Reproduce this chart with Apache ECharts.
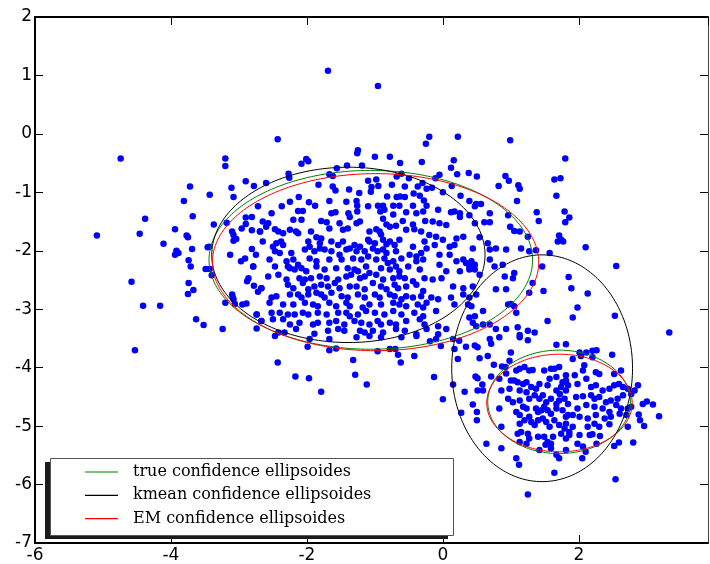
<!DOCTYPE html>
<html>
<head>
<meta charset="utf-8">
<script src="https://cdn.jsdelivr.net/npm/echarts@6/dist/echarts.min.js"></script>
<style>html,body{margin:0;padding:0;background:#fff}#c{width:710px;height:564px}</style>
</head>
<body>
<div id="c"></div>
<script>
// ---- tick labels / axis ranges ----
const xTicks = [-6, -4, -2, 0, 2];
const yTicks = [-7, -6, -5, -4, -3, -2, -1, 0, 1, 2];
const legendNames = ['true confidence ellipsoides', 'kmean confidence ellipsoides', 'EM confidence ellipsoides'];

// ---- ellipse parameters: [centerX, centerY, semiAxisX, semiAxisY, angleDeg] ----
const ellipsesTrue = [[-1.06, -2.155, 2.38, 1.53, 0], [1.71, -4.585, 1.05, 0.885, 0]];
const ellipsesKmean = [[-1.39, -2.07, 2.01, 1.50, 0], [1.46, -4.01, 1.33, 1.94, 0]];
const ellipsesEM = [[-0.99, -2.195, 2.40, 1.515, 0], [1.715, -4.605, 1.07, 0.835, 0]];

// ---- scatter points, read region by region ----
const pointsFarLeft = [
[-4.74,-0.42],[-3.20,-0.42],[-3.20,-0.55],[-3.72,-0.90],[-3.43,-1.04],[-3.81,-1.15],[-3.11,-0.92],[-2.90,-0.81],[-2.78,-0.89],[-3.08,-1.08],[-2.72,-1.24],
[-4.38,-1.45],[-4.46,-1.71],[-5.09,-1.74],[-4.11,-1.88],[-3.94,-1.63],[-3.68,-1.41],[-3.37,-1.55],[-3.18,-1.52],[-3.77,-1.74],[-3.75,-1.77],[-3.69,-1.97],[-3.92,-2.00],[-3.89,-2.04],[-3.94,-2.07],[-3.46,-1.94],[-3.44,-1.93],[-3.74,-2.16],[-3.71,-2.27],[-3.49,-2.31],[-3.43,-2.31],[-3.40,-2.42],[-4.58,-2.53],[-3.74,-2.55],[-3.67,-2.67],[-3.75,-2.74],[-4.41,-2.94],[-4.16,-2.94],[-3.63,-3.17],[-3.52,-3.27],[-3.24,-3.34],[-3.20,-2.89],[-3.10,-2.75],[-3.08,-2.83],[-3.06,-2.91],[-3.09,-2.80],[-2.95,-2.92],[-2.89,-2.90],[-2.74,-3.33],
[-2.90,-1.43],[-2.81,-1.42],[-2.90,-1.54],[-2.96,-1.62],[-2.81,-1.65],[-3.10,-1.67],[-3.08,-1.73],[-3.04,-1.80],[-3.08,-1.83],[-2.81,-1.97],[-2.75,-2.07],[-2.91,-2.13],[-2.97,-2.18],[-3.13,-2.07],[-2.86,-2.47],[-2.88,-2.52],[-2.78,-2.60],[-2.72,-2.70],
[-4.53,-3.70]
];
const pointsTop = [
[-1.69,1.08],[-0.955,0.82],[-2.43,-0.09],[-1.25,-0.28],[-1.26,-0.33],[-1.00,-0.39],[-0.78,-0.39],[-0.63,-0.50],[-0.31,-0.48],[-0.25,-0.17],[-0.20,-0.05],[-2.01,-0.43],[-1.98,-0.47],[-2.08,-0.51],[-1.56,-0.59],[-1.41,-0.54],[-1.19,-0.54],[-2.27,-0.68],[-2.26,-0.75],[-1.67,-0.69],[-1.62,-0.72],[-2.60,-0.84],[-1.83,-0.87],[-1.62,-0.90],[-1.58,-0.97],[-1.38,-0.95],[-1.23,-1.01],[-1.10,-0.80],[-0.98,-0.78],[-1.05,-0.91],[-0.95,-0.89],[-1.06,-0.99],[-0.75,-0.87],[-0.68,-0.73],[-0.61,-0.68],[-0.50,-0.76],[-0.56,-0.90],[-0.37,-0.90],[-0.30,-0.84],[-0.43,-1.02],[-0.34,-1.06],[-0.82,-1.07],[-0.68,-1.08],[-0.63,-1.07],[-0.56,-1.08],[-0.24,-0.94],[-2.12,-1.08],[-2.25,-1.16],[-1.97,-1.17],[-1.67,-1.15],[-1.42,-1.16],[-1.27,-1.15],[-2.37,-1.24],[-1.88,-1.23],[-1.26,-1.23],[-0.955,-1.23],[-0.88,-1.23],[-0.73,-1.23],[-0.64,-1.23],[-0.44,-1.23],
[0.22,-0.05],[0.99,-0.11],[1.80,-0.42],[0.16,-0.45],[0.12,-0.58],[0.21,-0.69],[0.38,-0.67],[0.50,-0.73],[-0.05,-0.70],[-0.11,-0.76],[-0.16,-0.92],[0.00,-1.00],[0.13,-0.89],[0.26,-1.06],[-0.28,-1.14],[0.39,-1.15],[0.49,-1.20],[0.56,-1.20],[0.47,-1.24],[0.82,-0.89],[0.92,-0.72],[0.97,-0.80],[1.11,-0.88],[1.13,-0.94],[1.09,-1.15],[1.64,-0.78],[1.73,-0.76],[1.67,-1.06]
];
const pointsCore = [
[-1.10,-1.24],[-0.24,-1.23],
[-2.52,-1.36],[-2.13,-1.32],[-2.06,-1.32],[-1.64,-1.36],[-1.58,-1.34],[-1.39,-1.36],[-1.26,-1.33],[-0.92,-1.33],[-0.86,-1.30],[-0.73,-1.38],[-0.54,-1.34],[-0.39,-1.36],[-0.29,-1.33],
[-2.65,-1.50],[-2.57,-1.53],[-2.60,-1.59],[-2.20,-1.47],[-2.08,-1.47],[-1.79,-1.49],[-1.71,-1.51],[-1.52,-1.53],[-1.37,-1.42],[-1.27,-1.53],[-1.22,-1.50],[-0.88,-1.45],[-0.83,-1.55],[-0.59,-1.49],[-0.44,-1.55],[-0.26,-1.49],
[-2.69,-1.67],[-2.47,-1.63],[-2.42,-1.67],[-2.35,-1.70],[-2.25,-1.64],[-2.16,-1.67],[-2.13,-1.70],[-1.94,-1.67],[-1.67,-1.62],[-1.47,-1.64],[-1.40,-1.62],[-1.08,-1.67],[-0.98,-1.63],[-0.93,-1.67],[-0.91,-1.72],[-0.78,-1.59],[-0.69,-1.57],[-0.54,-1.64],[-0.42,-1.63],[-0.32,-1.67],
[-2.65,-1.84],[-2.50,-1.93],[-2.45,-1.87],[-2.38,-1.84],[-2.35,-1.90],[-1.98,-1.84],[-1.86,-1.77],[-1.79,-1.79],[-1.96,-1.93],[-1.81,-1.87],[-1.64,-1.84],[-1.54,-1.90],[-1.47,-1.84],[-1.30,-1.90],[-1.22,-1.93],[-1.10,-1.81],[-1.08,-1.84],[-1.00,-1.87],[-0.88,-1.81],[-0.83,-1.89],[-0.78,-1.84],[-0.71,-1.90],[-0.64,-1.81],[-0.44,-1.93],[-0.27,-1.84],
[-2.47,-2.01],[-2.40,-2.04],[-2.23,-2.04],[-2.03,-1.98],[-1.89,-2.01],[-1.81,-1.96],[-1.74,-1.98],[-1.64,-2.01],[-1.52,-2.07],[-1.42,-1.98],[-1.37,-1.96],[-1.27,-2.01],[-1.15,-2.01],[-1.03,-1.96],[-0.96,-2.01],[-0.88,-1.98],[-0.83,-2.04],[-0.69,-2.01],[-0.49,-2.07],[-0.39,-2.10],[-0.24,-1.96],
[-2.55,-2.15],[-2.30,-2.18],[-2.20,-2.15],[-2.13,-2.24],[-1.96,-2.13],[-1.86,-2.18],[-1.67,-2.15],[-1.49,-2.15],[-1.32,-2.13],[-1.20,-2.15],[-1.10,-2.10],[-0.98,-2.15],[-0.86,-2.13],[-0.81,-2.21],[-0.73,-2.18],[-0.61,-2.13],[-0.39,-2.18],[-0.29,-2.15],
[-2.79,-2.27],[-2.47,-2.27],[-2.28,-2.27],[-2.25,-2.30],[-2.18,-2.32],[-2.08,-2.30],[-2.01,-2.35],[-1.86,-2.27],[-1.74,-2.32],[-1.57,-2.30],[-1.40,-2.30],[-1.30,-2.32],[-1.25,-2.35],[-1.13,-2.27],[-1.08,-2.38],[-0.91,-2.30],[-0.78,-2.32],[-0.69,-2.27],[-0.64,-2.35],[-0.51,-2.27],[-0.34,-2.32],
[-2.57,-2.44],[-2.42,-2.41],[-2.30,-2.49],[-2.11,-2.47],[-2.03,-2.49],[-1.94,-2.47],[-1.81,-2.44],[-1.71,-2.47],[-1.54,-2.49],[-1.42,-2.44],[-1.35,-2.41],[-1.22,-2.47],[-1.15,-2.44],[-0.98,-2.41],[-0.88,-2.49],[-0.73,-2.47],[-0.64,-2.44],[-0.56,-2.47],[-0.44,-2.52],[-0.27,-2.47],
[-2.67,-2.64],[-2.28,-2.58],[-2.20,-2.64],[-2.06,-2.55],[-1.98,-2.66],[-1.89,-2.61],[-1.79,-2.58],[-1.69,-2.61],[-1.59,-2.55],[-1.52,-2.64],[-1.37,-2.61],[-1.27,-2.61],[-1.15,-2.66],[-1.03,-2.55],[-0.91,-2.61],[-0.83,-2.66],[-0.71,-2.58],[-0.66,-2.64],[-0.54,-2.61],[-0.39,-2.58],[-0.29,-2.69],
[-2.52,-2.80],[-2.45,-2.78],[-2.25,-2.75],[-2.13,-2.75],[-2.08,-2.80],[-1.98,-2.75],[-1.86,-2.72],[-1.79,-2.75],[-1.74,-2.80],[-1.64,-2.72],[-1.49,-2.78],[-1.40,-2.80],[-1.25,-2.75],[-1.15,-2.80],[-1.00,-2.75],[-0.93,-2.80],[-0.78,-2.75],[-0.71,-2.78],[-0.61,-2.83],[-0.54,-2.78],[-0.44,-2.80],[-0.32,-2.78],
[-2.55,-2.89],[-2.35,-2.92],[-2.20,-2.92],[-2.03,-2.89],[-1.91,-2.92],[-1.84,-2.95],[-1.67,-2.89],[-1.57,-2.95],[-1.42,-2.89],[-1.37,-2.95],[-1.18,-2.97],[-1.08,-2.92],[-0.91,-2.92],[-0.73,-2.89],[-0.64,-2.92],[-0.54,-2.95],[-0.37,-2.92],[-0.24,-2.89],
[-2.74,-3.09],[-2.52,-3.06],[-2.40,-3.06],[-2.28,-3.09],[-2.18,-3.09],[-2.06,-3.06],[-1.98,-3.09],[-1.84,-3.06],[-1.71,-3.09],[-1.54,-3.06],[-1.42,-3.06],[-1.37,-3.12],[-1.25,-3.09],[-1.13,-3.03],[-1.00,-3.06],[-0.86,-3.09],[-0.73,-3.03],[-0.61,-3.09],[-0.42,-3.06],[-0.29,-3.12],
[-2.67,-3.20],[-2.50,-3.17],[-2.35,-3.17],[-2.25,-3.26],[-2.11,-3.23],[-1.91,-3.26],[-1.84,-3.23],[-1.67,-3.23],[-1.57,-3.20],[-1.45,-3.26],[-1.30,-3.20],[-1.20,-3.23],[-1.08,-3.26],[-0.96,-3.20],[-0.91,-3.26],[-0.78,-3.23],[-0.69,-3.26],[-0.54,-3.20],[-0.34,-3.17],[-0.27,-3.26],
[-2.42,-3.40],[-2.33,-3.40],[-2.16,-3.34],[-1.89,-3.42],[-1.69,-3.37],[-1.54,-3.34],[-1.45,-3.37],[-1.22,-3.37],[-1.15,-3.40],[-1.03,-3.37],[-0.88,-3.40],[-0.69,-3.34],[-0.56,-3.37],[-0.39,-3.43],[-0.24,-3.34],
[-2.47,-3.46],[-1.96,-3.51],[-1.67,-3.51],[-1.27,-3.48],[-1.08,-3.46],[-0.91,-3.48],[-0.61,-3.48],[-0.39,-3.46],
[-2.69,-1.67],[-2.79,-2.27],[-2.67,-2.64],[-2.74,-3.09],[-2.67,-3.20]
];
const pointsMiddle = [
[-0.07,-1.30],[0.12,-1.34],[0.17,-1.33],[0.25,-1.36],[-0.15,-1.50],[-0.05,-1.53],[0.05,-1.56],[0.25,-1.42],[-0.20,-1.73],[-0.10,-1.76],[0.00,-1.81],[0.20,-1.79],[0.30,-1.76],[-0.12,-1.90],[0.10,-1.93],[0.17,-1.90],[0.44,-1.96],[-0.32,-2.04],[-0.05,-2.07],[0.10,-2.07],[0.20,-2.18],[0.30,-2.15],[0.34,-2.21],[0.42,-2.18],[0.39,-2.27],[0.47,-2.24],[-0.05,-2.24],[0.05,-2.35],[0.25,-2.35],[0.39,-2.32],[0.47,-2.32],[0.54,-2.41],[-0.15,-2.49],[-0.02,-2.47],[0.15,-2.61],[0.30,-2.64],[0.44,-2.61],[-0.17,-2.80],[-0.07,-2.83],[0.12,-2.80],[0.30,-2.75],[0.39,-2.80],[0.37,-2.92],[0.42,-2.95],[0.49,-2.75],[-0.29,-2.97],[-0.10,-3.03],[0.17,-2.92],[0.39,-3.14],[0.44,-3.23],[0.49,-3.29],[-0.07,-3.29],[0.05,-3.34],[-0.07,-3.43],
[0.47,-1.53],[0.69,-1.36],[0.61,-1.51],[0.69,-1.51],[0.96,-1.39],[0.99,-1.59],[1.05,-1.66],[0.39,-1.39],[0.54,-1.77],[0.66,-1.87],[0.69,-1.98],[0.78,-1.96],[0.93,-1.98],[1.15,-1.96],[1.25,-1.76],[1.13,-1.67],[1.27,-2.01],[0.88,-2.24],[0.69,-2.15],[0.76,-2.27],[0.91,-2.44],[1.03,-2.47],[1.05,-2.38],[0.78,-2.66],[0.93,-2.66],[1.27,-2.72],[1.32,-2.55],[0.96,-2.92],[1.00,-2.91],[1.05,-2.95],[1.08,-3.06],[0.59,-3.03],[0.47,-3.12],[0.59,-3.26],[0.69,-3.26],[0.78,-3.34],
[1.38,-1.34],[1.41,-1.49],[1.79,-1.33],[1.86,-1.43],[1.80,-1.51],[1.71,-1.74],[1.74,-1.81],[1.77,-1.84],[1.69,-1.84],[2.10,-1.94],[1.37,-1.99],[1.57,-2.04],[1.46,-2.27],[1.85,-2.45],[1.89,-2.64],[2.13,-2.73],[1.48,-2.69],[1.98,-2.97],[1.91,-3.14],[1.54,-3.20],[1.10,-3.31],[0.93,-3.34],[1.25,-3.37],[1.35,-3.40],[1.13,-3.44],[0.47,-3.62],
[2.55,-2.26],[2.53,-3.11],[3.33,-3.40]
];
const pointsLower = [
[-1.99,-3.64],[-1.67,-3.70],[-1.57,-3.67],[-0.96,-3.72],[-0.78,-3.68],[-0.70,-3.68],[-0.66,-3.78],[-0.42,-3.80],[-0.62,-3.91],[-2.43,-3.91],[-1.32,-3.87],[-2.17,-4.15],[-1.97,-4.18],[-1.29,-4.12],[-1.12,-4.29],[-1.79,-4.41]
];
const pointsSmallWest = [
[-0.19,-3.55],[-0.10,-3.51],[0.15,-3.51],[0.24,-3.54],[0.69,-3.51],[0.71,-3.59],[0.83,-3.48],[1.13,-3.48],[1.25,-3.53],[1.67,-3.61],[1.81,-3.60],[-0.03,-3.63],[0.17,-3.68],[0.34,-3.64],[0.51,-3.65],[0.54,-3.84],[0.66,-3.80],[0.22,-3.85],[-0.13,-4.16],[0.00,-4.54],[0.15,-4.29],[0.27,-4.77],[0.32,-4.41],[0.44,-4.63],[0.48,-4.15],[0.51,-4.18],[0.50,-4.76],[0.51,-4.39],[0.59,-4.39],[0.58,-4.29],[0.50,-4.90],[0.71,-4.15],[0.75,-3.95],[0.87,-3.98],[0.92,-3.99],[0.98,-3.88],[1.00,-3.74],[0.64,-5.30],[0.86,-5.38],[1.08,-5.55],[1.12,-5.66],[1.25,-6.17],[1.64,-5.80],[0.86,-5.01],[0.83,-4.70],[0.86,-4.39],[0.83,-4.19],
[0.93,-4.10],[1.00,-4.22],[1.08,-4.05],[1.13,-4.02],[1.20,-3.99],[1.27,-4.05],[1.32,-4.04],[1.05,-4.22],[1.10,-4.25],[1.18,-4.28],[1.23,-4.25],[0.98,-4.36],[1.13,-4.39],[1.23,-4.42],[1.30,-4.33],[1.37,-4.36],[1.49,-4.05],[1.59,-4.02],[1.64,-4.02],[1.71,-3.99],[1.57,-4.19],[1.67,-4.16],[1.76,-4.25],[1.81,-4.22],[1.42,-4.28],[1.54,-4.30],[1.67,-4.39],[1.74,-4.33],[1.81,-4.39],[1.84,-4.30],
[0.96,-4.53],[1.03,-4.59],[1.13,-4.56],[1.18,-4.67],[1.27,-4.53],[1.35,-4.47],[1.42,-4.53],[1.47,-4.47],[1.52,-4.59],[1.59,-4.53],[1.67,-4.62],[1.71,-4.56],[1.79,-4.53],[1.84,-4.62],[1.08,-4.76],[1.13,-4.81],[1.23,-4.70],[1.27,-4.84],[1.37,-4.70],[1.40,-4.76],[1.45,-4.73],[1.49,-4.67],[1.54,-4.73],[1.59,-4.79],[1.67,-4.70],[1.76,-4.73],[1.84,-4.81],
[1.13,-4.96],[1.20,-4.90],[1.30,-4.93],[1.35,-4.98],[1.40,-4.90],[1.47,-4.87],[1.52,-4.93],[1.57,-5.01],[1.64,-4.90],[1.71,-4.98],[1.81,-4.96],[1.10,-5.13],[1.15,-5.10],[1.25,-5.13],[1.27,-5.21],[1.40,-5.18],[1.49,-5.18],[1.54,-5.27],[1.51,-5.32],[1.59,-5.30],[1.62,-5.18],[1.74,-5.13],[1.79,-5.04],[1.86,-5.10],[1.13,-5.27],[1.23,-5.30],[1.42,-5.41],[1.59,-5.38],[1.67,-5.49],[1.71,-5.55],[1.81,-5.41]
];
const pointsSmallEast = [
[2.01,-3.74],[2.11,-3.74],[2.20,-3.71],[2.26,-3.70],[2.49,-3.78],[2.03,-3.80],[2.20,-3.82],[1.91,-3.85],[2.08,-3.96],[2.06,-4.05],[2.25,-4.08],[2.30,-4.11],[2.62,-4.05],[2.52,-4.11],[1.81,-4.13],[1.94,-4.13],[2.11,-4.19],[1.98,-4.28],[2.18,-4.33],[2.25,-4.30],[2.35,-4.39],[2.45,-4.36],[2.52,-4.30],[2.59,-4.28],[2.65,-4.33],[2.72,-4.36],[2.82,-4.39],[2.87,-4.30],[1.72,-4.45],[1.96,-4.50],[2.06,-4.49],[2.18,-4.47],[2.23,-4.53],[2.30,-4.50],[2.40,-4.59],[2.47,-4.56],[2.57,-4.53],[2.65,-4.47],[2.77,-4.45],[2.94,-4.62],[3.00,-4.58],[3.09,-4.63],[3.18,-4.83],[1.98,-4.70],[2.11,-4.64],[2.23,-4.67],[2.35,-4.70],[2.45,-4.76],[2.55,-4.64],[2.62,-4.70],[2.72,-4.70],[2.77,-4.67],[2.88,-4.80],[2.90,-4.90],[1.81,-4.84],[1.91,-4.81],[2.01,-4.84],[2.13,-4.87],[2.25,-4.81],[2.38,-4.87],[2.47,-4.84],[2.45,-4.97],[2.60,-4.79],[2.70,-4.81],[2.72,-5.01],[2.96,-5.00],[1.91,-5.01],[2.13,-5.01],[2.23,-4.96],[2.30,-5.01],[1.86,-5.15],[2.01,-5.15],[2.16,-5.15],[2.20,-5.14],[2.31,-5.17],[1.81,-5.21],[1.98,-5.30],[2.06,-5.35],[2.10,-5.44],[2.26,-5.30],[2.52,-5.34],[2.59,-5.28],[2.80,-5.28],[2.05,-5.55],[2.54,-5.91]
];

const allPoints = [].concat(pointsFarLeft, pointsTop, pointsCore, pointsMiddle, pointsLower, pointsSmallWest, pointsSmallEast);

function ellipsePath(p) {
  const [cx, cy, a, b, ang] = p;
  const t = ang * Math.PI / 180, out = [];
  for (let i = 0; i <= 200; i++) {
    const u = i / 200 * 2 * Math.PI;
    const ex = a * Math.cos(u), ey = b * Math.sin(u);
    out.push([cx + ex * Math.cos(t) - ey * Math.sin(t), cy + ex * Math.sin(t) + ey * Math.cos(t)]);
  }
  return out;
}

const lineSeries = [];
[[ellipsesTrue, legendNames[0], '#008000'], [ellipsesKmean, legendNames[1], '#000000'], [ellipsesEM, legendNames[2], '#ff0000']].forEach(([list, name, color]) => {
  list.forEach(p => lineSeries.push({
    type: 'line', name, data: ellipsePath(p), symbol: 'none', smooth: false,
    lineStyle: { color, width: 1 }, itemStyle: { color }, z: 3, silent: true
  }));
});

const axisFont = { fontFamily: 'DejaVu Sans', fontSize: 17, color: '#000' };
const chart = echarts.init(document.getElementById('c'), null, { renderer: 'canvas' });
chart.setOption({
  animation: false,
  backgroundColor: '#fff',
  grid: { left: 35, right: 2, top: 17, bottom: 17 },
  xAxis: [
    { type: 'value', min: xTicks[0], max: 3.9, interval: 2, position: 'bottom',
      axisLine: { onZero: false, lineStyle: { color: '#000', width: 2 } },
      axisTick: { inside: true, length: 8, lineStyle: { color: '#000' } },
      axisLabel: Object.assign({ margin: 4, showMaxLabel: false, formatter: v => xTicks.includes(v) ? String(v) : '' }, axisFont),
      splitLine: { show: false } },
    { type: 'value', min: xTicks[0], max: 3.9, interval: 2, position: 'top',
      axisLine: { onZero: false, lineStyle: { color: '#000', width: 2 } },
      axisTick: { inside: true, length: 8, lineStyle: { color: '#000' } },
      axisLabel: { show: false }, splitLine: { show: false } }
  ],
  yAxis: [
    { type: 'value', min: yTicks[0], max: yTicks[yTicks.length - 1], interval: 1, position: 'left',
      axisLine: { onZero: false, lineStyle: { color: '#000', width: 2 } },
      axisTick: { inside: true, length: 8, lineStyle: { color: '#000' } },
      axisLabel: Object.assign({ margin: 3 }, axisFont),
      splitLine: { show: false } },
    { type: 'value', min: yTicks[0], max: yTicks[yTicks.length - 1], interval: 1, position: 'right',
      axisLine: { onZero: false, lineStyle: { color: '#444', width: 1 } },
      axisTick: { inside: true, length: 8, lineStyle: { color: '#000' } },
      axisLabel: { show: false }, splitLine: { show: false } }
  ],
  legend: {
    data: legendNames.map(n => ({ name: n, icon: 'rect' })), orient: 'vertical', left: 85, top: 464, padding: 0,
    itemWidth: 33, itemHeight: 1.2, itemGap: 7.3,
    textStyle: { fontFamily: 'DejaVu Serif', fontSize: 16, color: '#000', lineHeight: 16, padding: [0, 0, 0, 10] },
    z: 10, selectedMode: false
  },
  graphic: [
    { type: 'rect', left: 45, top: 462, shape: { width: 403, height: 77 }, style: { fill: '#1a1a1a' }, z: 8 },
    { type: 'rect', left: 50, top: 458, shape: { width: 403, height: 77 }, style: { fill: '#fff', stroke: '#555', lineWidth: 1 }, z: 9 }
  ],
  series: [
    { type: 'scatter', name: 'points', data: allPoints, symbol: 'circle', symbolSize: 6.5,
      itemStyle: { color: '#0000ff', opacity: 1 }, z: 2, silent: true }
  ].concat(lineSeries)
});
</script>
</body>
</html>
